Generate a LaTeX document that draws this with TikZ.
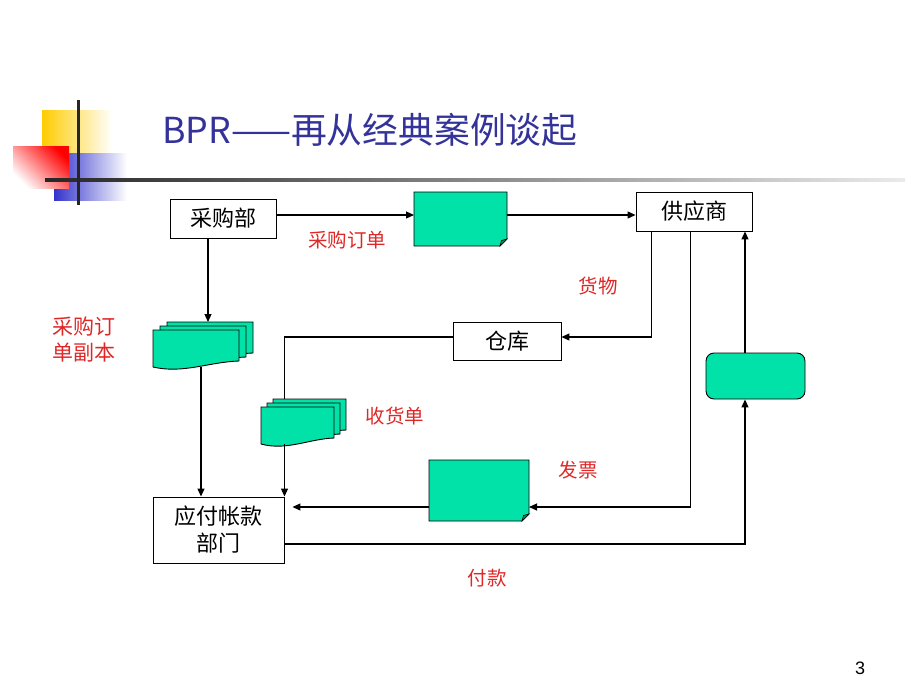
\documentclass[tikz,border=0pt]{standalone}
\usepackage{fontspec}
\setmainfont{Liberation Sans}
\newfontfamily\cjk{Noto Sans CJK SC}
\usetikzlibrary{arrows.meta,calc}
\definecolor{docgreen}{RGB}{0,226,168}
\definecolor{foldgreen}{RGB}{0,140,100}
\definecolor{titleblue}{RGB}{51,51,153}
\definecolor{labred}{RGB}{222,40,40}
\definecolor{decoyellow}{RGB}{255,204,0}
\definecolor{decoblue}{RGB}{51,51,204}
\newcommand\wavydoc[1]{%
  \filldraw[docline] (#1.north west) -- (#1.north east) -- ($(#1.south east)+(0,-6)$)
    .. controls ($(#1.south west)!0.65!(#1.south east)+(0,-5)$) and ($(#1.south west)!0.35!(#1.south east)+(0,7)$) .. (#1.south west) -- cycle;}
\newcommand\folddoc[1]{%
  \filldraw[docline] (#1.north west) -- (#1.north east) -- ($(#1.south east)+(0,-7)$) -- ($(#1.south east)+(-7,0)$) -- (#1.south west) -- cycle;
  \filldraw[draw=black, line width=0.6pt, fill=foldgreen] ($(#1.south east)+(0,-7)$) -- ($(#1.south east)+(-7,0)$) -- ($(#1.south east)+(-5.5,-5.5)$) -- cycle;}
\begin{document}
\begin{tikzpicture}[x=1pt,y=-1pt,
  box/.style={draw=black, line width=0.9pt, fill=white, inner sep=0pt, align=center, font=\cjk\fontsize{22}{27}\selectfont},
  shapebox/.style={inner sep=0pt, outer sep=0pt, anchor=north west},
  docline/.style={draw=black, line width=0.9pt, fill=docgreen},
  conn/.style={line width=1.1pt, draw=black},
  arr/.style={conn, -{Triangle[length=8pt,width=7pt]}},
  lab/.style={text=labred, inner sep=0pt, align=center, font=\cjk\fontsize{19.5}{26}\selectfont}]
\useasboundingbox (0,0) rectangle (920,690);
% decoration
\shade[left color=decoyellow, middle color=decoyellow, right color=white] (42,111) rectangle (112,153);
\shade[left color=decoblue, middle color=decoblue, right color=white] (54,153) rectangle (127,200);
\shade[bottom color=white, top color=red, shading angle=-45] (13,146) rectangle (69,188);
\shade[left color=black!85, middle color=black!60, right color=black!8] (45,178.5) rectangle (905,181.5);
\fill[black!85] (76.5,100) rectangle (79.5,205);
% title
\node[anchor=west, inner sep=0pt, text=titleblue, font=\cjk\fontsize{35.8}{38}\selectfont] (title) at (162,130) {BPR——再从经典案例谈起};
% boxes
\node[box, minimum width=106pt, minimum height=39pt] (purch) at (223,218.5) {采购部};
\node[box, minimum width=116pt, minimum height=39pt] (sup) at (694,211.5) {供应商};
\node[box, minimum width=108pt, minimum height=38pt] (ware) at (507,341) {仓库};
\node[box, minimum width=131pt, minimum height=66pt] (ap) at (218.5,530) {应付帐款\\部门};
\node[draw=black, line width=0.9pt, fill=docgreen, rounded corners=8pt, minimum width=99pt, minimum height=46pt, inner sep=0pt] (rr) at (755.5,376) {};
% document shapes
\node[shapebox, minimum width=93pt, minimum height=54pt] (docA) at (414,192) {};
\folddoc{docA}
\node[shapebox, minimum width=100pt, minimum height=61pt] (docB) at (429,460) {};
\folddoc{docB}
\node[shapebox, minimum width=86pt, minimum height=37pt] (d1c) at (167,322) {};
\node[shapebox, minimum width=86pt, minimum height=37pt] (d1b) at (160,326) {};
\node[shapebox, minimum width=86pt, minimum height=37pt] (d1a) at (153,330) {};
\wavydoc{d1c}\wavydoc{d1b}\wavydoc{d1a}
\node[shapebox, minimum width=73pt, minimum height=37pt] (d2c) at (273,399) {};
\node[shapebox, minimum width=73pt, minimum height=37pt] (d2b) at (267,403) {};
\node[shapebox, minimum width=73pt, minimum height=37pt] (d2a) at (261,407) {};
\wavydoc{d2c}\wavydoc{d2b}\wavydoc{d2a}
\coordinate (d2in) at ($(d2c.north west)+(11.5,0)$);
\coordinate (rrin) at ($(rr.south)+(-10.5,0)$);
\coordinate (rrout) at ($(rr.north)+(-10.5,0)$);
% connectors
\draw[arr] ([yshift=3.5pt]purch.east) -- ([yshift=3.5pt]purch.east -| docA.west);
\draw[arr] ([yshift=4pt]docA.east) -- ([yshift=4pt]docA.east -| sup.west);
\draw[arr] ([xshift=16pt]sup.south west) |- ([yshift=4pt]ware.east);
\draw[conn] ([yshift=4pt]ware.west) -| (d2in);
\draw[arr] (d2in |- d2a.south) -- (d2in |- ap.north);
\draw[arr] ([xshift=-15pt]purch.south) -- ([xshift=-15pt]purch.south |- d1c.north);
\draw[arr] ([xshift=5pt]d1a.south) -- ([xshift=5pt]d1a.south |- ap.north);
\draw[arr] ([xshift=55pt]sup.south west) |- ([yshift=-16.5pt]docB.east);
\draw[arr, shorten >=1pt] ([yshift=-16.5pt]docB.west) -- ([xshift=7pt,yshift=-16.5pt]docB.west -| ap.east);
\draw[arr] ([yshift=-14pt]ap.east) -| (rrin);
\draw[arr] (rrout) -- (rrout |- sup.south);
% labels
\node[lab] (l1) at (347,240) {采购订单};
\node[lab] (l2) at (598,286) {货物};
\node[lab, font=\cjk\fontsize{21}{26}\selectfont] (l3) at (84,340) {采购订\\单副本};
\node[lab] (l4) at (395,416) {收货单};
\node[lab] (l5) at (578,470) {发票};
\node[lab] (l6) at (487,578) {付款};
\node[inner sep=0pt, font=\fontsize{18}{20}\selectfont] (pg) at (860,668) {3};
\end{tikzpicture}
\end{document}
